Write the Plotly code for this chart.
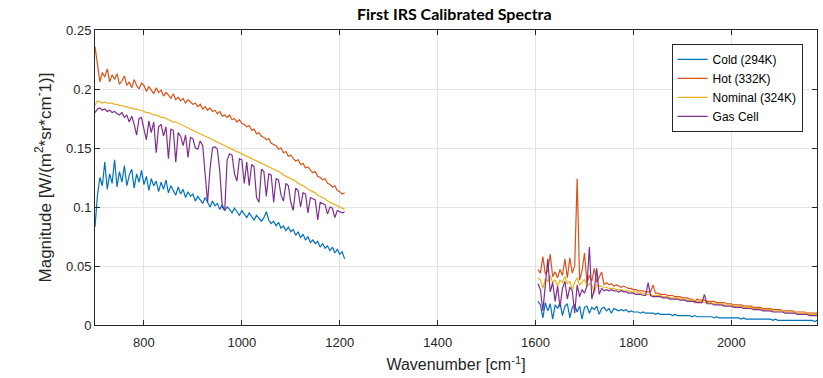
import plotly.graph_objects as go

# ---- Wavenumber grids (cm^-1) ----
wn_left = list(range(700, 1211, 5))     # 700 .. 1210
wn_right = list(range(1605, 2176, 5))   # 1605 .. 2175

# ---- Cold (294K) ----
cold_left = [
    0.083, 0.110, 0.125, 0.118, 0.138, 0.115, 0.128, 0.120, 0.140, 0.117,
    0.130, 0.121, 0.135, 0.118, 0.127, 0.132, 0.116, 0.128, 0.121, 0.131,
    0.119, 0.126, 0.114, 0.124, 0.118, 0.122, 0.113, 0.121, 0.115, 0.123,
    0.112, 0.118, 0.114, 0.110, 0.117, 0.111, 0.115, 0.108, 0.113, 0.109,
    0.111, 0.105, 0.109, 0.106, 0.103, 0.108, 0.104, 0.100, 0.105, 0.101,
    0.103, 0.098, 0.102, 0.097, 0.100, 0.098, 0.095, 0.099, 0.096, 0.093,
    0.097, 0.094, 0.091, 0.095, 0.092, 0.089, 0.093, 0.090, 0.088, 0.091,
    0.096, 0.089, 0.086, 0.088, 0.084, 0.087, 0.082, 0.084, 0.080, 0.083,
    0.079, 0.081, 0.076, 0.079, 0.074, 0.077, 0.072, 0.075, 0.070, 0.072,
    0.069, 0.071, 0.066, 0.069, 0.065, 0.067, 0.063, 0.066, 0.061, 0.064,
    0.060, 0.062, 0.056,
]
cold_right = [
    0.020, 0.017, 0.006, 0.019, 0.012, 0.018, 0.005, 0.017, 0.014, 0.019,
    0.008, 0.016, 0.018, 0.006, 0.015, 0.017, 0.011, 0.016, 0.005, 0.015,
    0.016, 0.010, 0.015, 0.013, 0.016, 0.009, 0.014, 0.015, 0.012, 0.014,
    0.010, 0.014, 0.013, 0.012, 0.013, 0.012, 0.013, 0.011, 0.012, 0.011,
    0.011, 0.011, 0.010, 0.011, 0.010, 0.010, 0.010, 0.010, 0.009, 0.010,
    0.009, 0.009, 0.009, 0.009, 0.009, 0.008, 0.009, 0.008, 0.008, 0.008,
    0.008, 0.008, 0.008, 0.007, 0.008, 0.007, 0.007, 0.007, 0.007, 0.007,
    0.007, 0.007, 0.006, 0.007, 0.006, 0.006, 0.006, 0.006, 0.006, 0.006,
    0.006, 0.006, 0.006, 0.005, 0.006, 0.005, 0.005, 0.005, 0.005, 0.005,
    0.005, 0.005, 0.005, 0.005, 0.005, 0.005, 0.004, 0.005, 0.004, 0.004,
    0.004, 0.004, 0.004, 0.004, 0.004, 0.004, 0.004, 0.004, 0.004, 0.004,
    0.004, 0.004, 0.004, 0.003, 0.004,
]

# ---- Hot (332K) ----
hot_left = [
    0.236, 0.222, 0.206, 0.214, 0.210, 0.217, 0.206, 0.212, 0.208, 0.213,
    0.204, 0.207, 0.211, 0.203, 0.206, 0.201, 0.208, 0.203, 0.200, 0.205,
    0.203, 0.198, 0.202, 0.199, 0.196, 0.201, 0.197, 0.199, 0.194, 0.197,
    0.195, 0.192, 0.196, 0.191, 0.193, 0.190, 0.192, 0.188, 0.191, 0.189,
    0.187, 0.188, 0.185, 0.187, 0.183, 0.185, 0.182, 0.184, 0.181, 0.182,
    0.179, 0.181, 0.177, 0.178, 0.176, 0.178, 0.174, 0.175, 0.172, 0.174,
    0.171, 0.170, 0.168, 0.169, 0.165, 0.166, 0.162, 0.163, 0.160, 0.159,
    0.157, 0.158, 0.154, 0.153, 0.152, 0.149, 0.150, 0.146, 0.147, 0.143,
    0.144, 0.141, 0.139, 0.140, 0.136, 0.137, 0.133, 0.134, 0.131, 0.129,
    0.130, 0.126, 0.125, 0.123, 0.124, 0.120, 0.119, 0.117, 0.118, 0.114,
    0.113, 0.111, 0.112,
]
hot_right = [
    0.047, 0.044, 0.058, 0.043, 0.046, 0.060, 0.041, 0.045, 0.040, 0.047,
    0.042, 0.056, 0.040, 0.057, 0.044, 0.050, 0.124, 0.038, 0.046, 0.061,
    0.036, 0.042, 0.037, 0.048, 0.036, 0.040, 0.045, 0.034, 0.036, 0.034,
    0.035, 0.033, 0.034, 0.033, 0.032, 0.033, 0.032, 0.031, 0.031, 0.030,
    0.030, 0.029, 0.029, 0.029, 0.028, 0.028, 0.028, 0.034, 0.027, 0.027,
    0.026, 0.026, 0.026, 0.025, 0.025, 0.025, 0.024, 0.024, 0.024, 0.023,
    0.023, 0.023, 0.022, 0.022, 0.019, 0.022, 0.021, 0.021, 0.021, 0.020,
    0.020, 0.020, 0.020, 0.019, 0.019, 0.019, 0.019, 0.018, 0.018, 0.018,
    0.017, 0.017, 0.017, 0.017, 0.016, 0.016, 0.016, 0.016, 0.015, 0.015,
    0.015, 0.015, 0.014, 0.014, 0.014, 0.014, 0.013, 0.013, 0.013, 0.013,
    0.012, 0.012, 0.012, 0.012, 0.012, 0.011, 0.011, 0.011, 0.011, 0.011,
    0.010, 0.010, 0.010, 0.010, 0.010,
]

# ---- Nominal (324K) ----
nominal_left = [
    0.186, 0.190, 0.189, 0.188, 0.189, 0.188, 0.188, 0.188, 0.187, 0.187,
    0.186, 0.186, 0.185, 0.185, 0.184, 0.184, 0.183, 0.183, 0.182, 0.182,
    0.181, 0.180, 0.180, 0.179, 0.178, 0.178, 0.177, 0.176, 0.176, 0.175,
    0.174, 0.173, 0.172, 0.172, 0.171, 0.170, 0.169, 0.168, 0.167, 0.166,
    0.165, 0.164, 0.163, 0.162, 0.161, 0.160, 0.159, 0.158, 0.157, 0.156,
    0.155, 0.154, 0.153, 0.152, 0.151, 0.150, 0.149, 0.148, 0.147, 0.146,
    0.145, 0.144, 0.143, 0.142, 0.141, 0.140, 0.139, 0.138, 0.137, 0.136,
    0.135, 0.134, 0.133, 0.132, 0.131, 0.130, 0.129, 0.127, 0.126, 0.125,
    0.124, 0.123, 0.122, 0.120, 0.119, 0.118, 0.117, 0.115, 0.114, 0.113,
    0.112, 0.110, 0.109, 0.108, 0.107, 0.105, 0.104, 0.103, 0.102, 0.101,
    0.100, 0.099, 0.098,
]
nominal_right = [
    0.040, 0.038, 0.031, 0.039, 0.037, 0.042, 0.036, 0.038, 0.033, 0.038,
    0.036, 0.041, 0.035, 0.037, 0.030, 0.036, 0.040, 0.034, 0.036, 0.039,
    0.033, 0.035, 0.034, 0.027, 0.034, 0.033, 0.033, 0.032, 0.032, 0.031,
    0.031, 0.031, 0.030, 0.030, 0.030, 0.029, 0.029, 0.029, 0.028, 0.028,
    0.028, 0.027, 0.027, 0.027, 0.026, 0.026, 0.026, 0.025, 0.025, 0.025,
    0.025, 0.024, 0.024, 0.024, 0.023, 0.023, 0.023, 0.023, 0.022, 0.022,
    0.022, 0.021, 0.021, 0.021, 0.021, 0.020, 0.020, 0.020, 0.019, 0.019,
    0.019, 0.019, 0.018, 0.018, 0.018, 0.018, 0.017, 0.017, 0.017, 0.017,
    0.016, 0.016, 0.016, 0.016, 0.015, 0.015, 0.015, 0.015, 0.014, 0.014,
    0.014, 0.014, 0.013, 0.013, 0.013, 0.013, 0.012, 0.012, 0.012, 0.012,
    0.012, 0.011, 0.011, 0.011, 0.011, 0.011, 0.010, 0.010, 0.010, 0.010,
    0.010, 0.009, 0.009, 0.009, 0.009,
]

# ---- Gas Cell ----
gas_left = [
    0.180, 0.183, 0.184, 0.182, 0.183, 0.181, 0.182, 0.180, 0.181, 0.179,
    0.178, 0.180, 0.176, 0.178, 0.172, 0.177, 0.170, 0.161, 0.175, 0.176,
    0.166, 0.157, 0.173, 0.163, 0.172, 0.146, 0.168, 0.170, 0.160, 0.168,
    0.141, 0.166, 0.165, 0.138, 0.163, 0.160, 0.152, 0.161, 0.142, 0.159,
    0.158, 0.150, 0.149, 0.156, 0.152, 0.125, 0.104, 0.132, 0.150, 0.151,
    0.149, 0.130, 0.100, 0.097, 0.140, 0.145, 0.144, 0.128, 0.122, 0.141,
    0.140, 0.120, 0.138, 0.118, 0.136, 0.134, 0.108, 0.104, 0.132, 0.130,
    0.109, 0.128, 0.127, 0.104, 0.124, 0.123, 0.110, 0.105, 0.120, 0.118,
    0.104, 0.097, 0.116, 0.114, 0.100, 0.112, 0.111, 0.095, 0.108, 0.107,
    0.106, 0.089, 0.104, 0.103, 0.102, 0.094, 0.100, 0.099, 0.091, 0.097,
    0.096, 0.095, 0.096,
]
gas_right = [
    0.035, 0.030, 0.012, 0.034, 0.056, 0.028, 0.036, 0.020, 0.033, 0.015,
    0.031, 0.037, 0.022, 0.032, 0.029, 0.010, 0.034, 0.024, 0.030, 0.027,
    0.033, 0.066, 0.022, 0.030, 0.048, 0.026, 0.031, 0.029, 0.030, 0.029,
    0.030, 0.029, 0.029, 0.028, 0.029, 0.028, 0.028, 0.027, 0.027, 0.027,
    0.026, 0.026, 0.026, 0.025, 0.025, 0.036, 0.025, 0.024, 0.024, 0.024,
    0.024, 0.023, 0.023, 0.023, 0.022, 0.022, 0.022, 0.022, 0.021, 0.021,
    0.021, 0.020, 0.020, 0.020, 0.020, 0.019, 0.019, 0.019, 0.026, 0.018,
    0.018, 0.018, 0.017, 0.017, 0.017, 0.017, 0.016, 0.016, 0.016, 0.016,
    0.015, 0.015, 0.015, 0.015, 0.014, 0.014, 0.014, 0.014, 0.013, 0.013,
    0.013, 0.013, 0.012, 0.012, 0.012, 0.012, 0.011, 0.011, 0.011, 0.011,
    0.011, 0.010, 0.010, 0.010, 0.010, 0.010, 0.009, 0.009, 0.009, 0.009,
    0.009, 0.008, 0.008, 0.008, 0.008,
]

series_names = ["Cold (294K)", "Hot (332K)", "Nominal (324K)", "Gas Cell"]
series_left = [cold_left, hot_left, nominal_left, gas_left]
series_right = [cold_right, hot_right, nominal_right, gas_right]
colors = ["#0072BD", "#D95319", "#EDB120", "#7E2F8E"]

x_all = wn_left + [None] + wn_right

fig = go.Figure()
for name, yl, yr, c in zip(series_names, series_left, series_right, colors):
    fig.add_trace(go.Scatter(
        x=x_all, y=yl + [None] + yr, mode="lines", name=name,
        line=dict(color=c, width=1.2), connectgaps=False,
    ))

axis_common = dict(
    showline=True, linecolor="#262626", linewidth=1, mirror="allticks",
    ticks="inside", ticklen=5, tickcolor="#262626",
    showgrid=True, gridcolor="#E3E3E3", gridwidth=1, zeroline=False,
    tickfont=dict(family="Liberation Sans, Arial", size=13, color="#262626"),
)
title_font = dict(family="Liberation Sans, Arial", size=16, color="#262626")

fig.update_layout(
    width=823, height=378,
    margin=dict(l=95, r=6, t=30, b=53),
    paper_bgcolor="white", plot_bgcolor="white",
    title=dict(text="<b>First IRS Calibrated Spectra</b>",
               x=0.5520, xanchor="center", y=0.962, yanchor="middle",
               font=dict(family="Lato, Liberation Sans", size=16, color="black")),
    xaxis=dict(range=[700, 2175], tickvals=[800, 1000, 1200, 1400, 1600, 1800, 2000],
               ticklabelstandoff=5,
               title=dict(text="Wavenumber [cm<sup>-1</sup>]", standoff=10, font=title_font),
               **axis_common),
    yaxis=dict(range=[0, 0.25], tickvals=[0, 0.05, 0.1, 0.15, 0.2, 0.25],
               ticktext=["0", "0.05", "0.1", "0.15", "0.2", "0.25"],
               title=dict(text="Magnitude [W/(m<sup>2</sup>*sr*cm<sup>-</sup>1)]",
                          standoff=10, font=dict(family="Liberation Sans, Arial", size=17, color="#262626")),
               **axis_common),
    legend=dict(x=0.98, y=0.953, xanchor="right", yanchor="top",
                bgcolor="white", bordercolor="#262626", borderwidth=1,
                font=dict(family="Liberation Sans, Arial", size=12, color="black"),
                tracegroupgap=0, itemwidth=30),
    showlegend=True,
)

fig.write_html("out.html")
